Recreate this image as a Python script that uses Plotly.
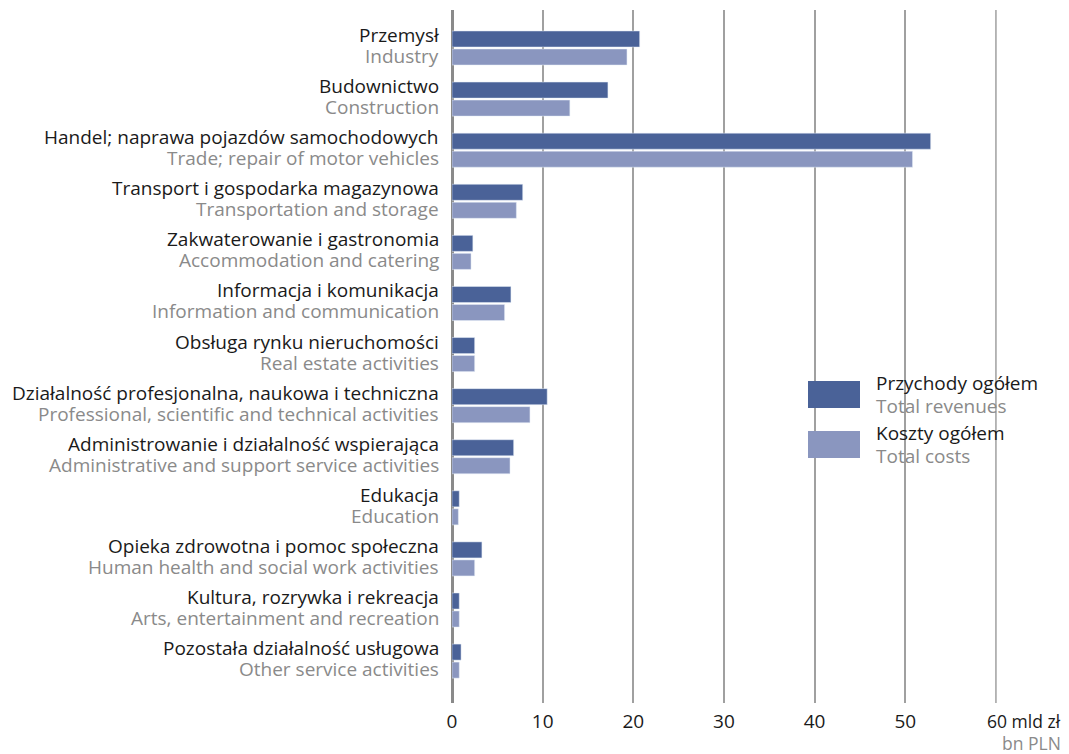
import plotly.graph_objects as go

categories_pl = [
    "Przemysł", "Budownictwo", "Handel; naprawa pojazdów samochodowych",
    "Transport i gospodarka magazynowa", "Zakwaterowanie i gastronomia",
    "Informacja i komunikacja", "Obsługa rynku nieruchomości",
    "Działalność profesjonalna, naukowa i techniczna",
    "Administrowanie i działalność wspierająca", "Edukacja",
    "Opieka zdrowotna i pomoc społeczna", "Kultura, rozrywka i rekreacja",
    "Pozostała działalność usługowa",
]
categories_en = [
    "Industry", "Construction", "Trade; repair of motor vehicles",
    "Transportation and storage", "Accommodation and catering",
    "Information and communication", "Real estate activities",
    "Professional, scientific and technical activities",
    "Administrative and support service activities", "Education",
    "Human health and social work activities", "Arts, entertainment and recreation",
    "Other service activities",
]
revenues = [20.7, 17.2, 52.8, 7.8, 2.3, 6.5, 2.5, 10.5, 6.8, 0.8, 3.3, 0.8, 1.0]
costs = [19.3, 13.0, 50.8, 7.1, 2.1, 5.8, 2.5, 8.6, 6.4, 0.7, 2.5, 0.8, 0.8]
x_ticks = [0, 10, 20, 30, 40, 50, 60]
series_pl = ["Przychody ogółem", "Koszty ogółem"]
series_en = ["Total revenues", "Total costs"]
unit_pl = "mld zł"
unit_en = "bn PLN"

REV = "#4a6298"
COST = "#8a96bf"
GREY = "#8a8a8a"
BLACK = "#1a1a1a"
FONT = "Open Sans"
FS = 19

# page has an 8px body margin; work in window pixels and convert
OFF = 8
W, H = 1069 - OFF, 754 - OFF

plot_left, plot_right, plot_top, plot_bottom = 452, 1005, 10, 703
L = plot_left - OFF
R = W - (plot_right - OFF)
T = plot_top - OFF
B = H - (plot_bottom - OFF)


def px(xp):
    return (xp - plot_left) / (plot_right - plot_left)


def py(yp):
    return (plot_bottom - yp) / (plot_bottom - plot_top)


pos = list(range(len(categories_pl)))

fig = go.Figure()
fig.add_trace(go.Bar(y=pos, x=revenues, orientation="h", marker_color=REV,
                     name=series_pl[0], showlegend=False))
fig.add_trace(go.Bar(y=pos, x=costs, orientation="h", marker_color=COST,
                     name=series_pl[1], showlegend=False))

off = 0.176
ann = []
for i, (pl, en) in enumerate(zip(categories_pl, categories_en)):
    ann.append(dict(x=0, y=i - off, xref="x", yref="y", text=pl, showarrow=False,
                    xanchor="right", yanchor="middle", xshift=-11, yshift=4,
                    font=dict(family=FONT, size=FS, color=BLACK)))
    ann.append(dict(x=0, y=i + off, xref="x", yref="y", text=en, showarrow=False,
                    xanchor="right", yanchor="middle", xshift=-11, yshift=1,
                    font=dict(family=FONT, size=FS, color=GREY)))

# last tick with unit
ann.append(dict(x=px(1063), y=py(721), xref="paper", yref="paper",
                text=f"{x_ticks[-1]} {unit_pl}", showarrow=False,
                xanchor="right", yanchor="middle",
                font=dict(family=FONT, size=17.5, color=BLACK)))
ann.append(dict(x=px(1063), y=py(743), xref="paper", yref="paper", text=unit_en,
                showarrow=False, xanchor="right", yanchor="middle",
                font=dict(family=FONT, size=17.5, color=GREY)))

shapes = []
legend_rows = [(381, 408, REV, 0), (431, 458, COST, 1)]
for y0, y1, col, k in legend_rows:
    shapes.append(dict(type="rect", xref="paper", yref="paper",
                       x0=px(808), x1=px(860), y0=py(y1), y1=py(y0),
                       fillcolor=col, line=dict(width=0)))
    ann.append(dict(x=px(874), y=py(y0 + 2), xref="paper", yref="paper",
                    text=series_pl[k], showarrow=False, xanchor="left", yanchor="middle",
                    font=dict(family=FONT, size=FS, color=BLACK)))
    ann.append(dict(x=px(874), y=py(y0 + 25), xref="paper", yref="paper",
                    text=series_en[k], showarrow=False, xanchor="left", yanchor="middle",
                    font=dict(family=FONT, size=FS, color=GREY)))

# gridline at the last tick
shapes.append(dict(type="line", xref="x", yref="paper", x0=x_ticks[-1], x1=x_ticks[-1],
                   y0=0, y1=1, line=dict(color="#a0a0a0", width=1.5), layer="below"))

fig.update_layout(
    width=W, height=H,
    margin=dict(l=L, r=R, t=T, b=B),
    paper_bgcolor="white", plot_bgcolor="white",
    barmode="group", bargap=0.295, bargroupgap=0.11,
    annotations=ann, shapes=shapes,
    showlegend=False,
    font=dict(family=FONT, size=FS, color=BLACK),
)
fig.update_xaxes(range=[0, 61], tickvals=x_ticks[:-1], ticktext=[str(v) for v in x_ticks[:-1]],
                 showgrid=True, gridcolor="#a0a0a0", gridwidth=1.5,
                 zeroline=True, zerolinecolor="#8a8a8a", zerolinewidth=2.5,
                 showline=False, ticks="", ticklabelstandoff=5,
                 tickfont=dict(family=FONT, size=FS, color=BLACK),
                 fixedrange=True)
fig.update_yaxes(range=[12.82, -0.744], showticklabels=False, showgrid=False,
                 zeroline=False, showline=False, fixedrange=True)

fig.write_html("out.html")
